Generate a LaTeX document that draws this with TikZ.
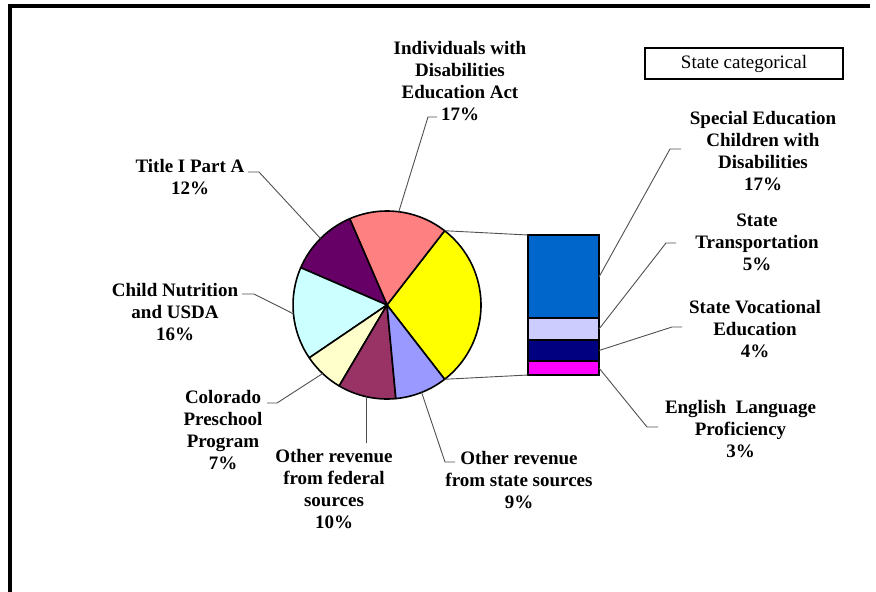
\documentclass[tikz,border=0pt]{standalone}
\usepackage{fontspec}
\setmainfont{Liberation Serif}
\definecolor{cYel}{HTML}{FFFF00}
\definecolor{cSal}{HTML}{FF8080}
\definecolor{cPur}{HTML}{660066}
\definecolor{cCya}{HTML}{CCFFFF}
\definecolor{cLYe}{HTML}{FFFFCC}
\definecolor{cPlu}{HTML}{993366}
\definecolor{cPer}{HTML}{9999FF}
\definecolor{cBlu}{HTML}{0066CC}
\definecolor{cLav}{HTML}{CCCCFF}
\definecolor{cNav}{HTML}{000080}
\definecolor{cMag}{HTML}{FF00FF}
\definecolor{cLead}{HTML}{505050}
\tikzset{
  lbl/.style={inner sep=0pt, align=center, font=\fontsize{19}{22}\selectfont\bfseries},
  lead/.style={draw=cLead, line width=0.9pt},
  slice/.style={draw=black, line width=1.6pt, line join=round},
  barseg/.style={draw=black, line width=1.6pt},
}
\begin{document}
\begin{tikzpicture}[x=1pt,y=-1pt]
\useasboundingbox[fill=white] (0,0) rectangle (876,592);
% frame
\draw[line width=4.5pt] (10,592) -- (10,6) -- (870,6);
% pie
\begin{scope}[shift={(387,305)}, y=1pt]
  \newcommand\pieR{94}
  \path[slice, fill=cYel] (0,0) -- (-52.2:\pieR) arc[start angle=-52.2, end angle=52.2, radius=\pieR] -- cycle;
  \path[slice, fill=cSal] (0,0) -- (52.2:\pieR) arc[start angle=52.2, end angle=113.4, radius=\pieR] -- cycle;
  \path[slice, fill=cPur] (0,0) -- (113.4:\pieR) arc[start angle=113.4, end angle=156.6, radius=\pieR] -- cycle;
  \path[slice, fill=cCya] (0,0) -- (156.6:\pieR) arc[start angle=156.6, end angle=214.2, radius=\pieR] -- cycle;
  \path[slice, fill=cLYe] (0,0) -- (214.2:\pieR) arc[start angle=214.2, end angle=239.4, radius=\pieR] -- cycle;
  \path[slice, fill=cPlu] (0,0) -- (239.4:\pieR) arc[start angle=239.4, end angle=275.4, radius=\pieR] -- cycle;
  \path[slice, fill=cPer] (0,0) -- (275.4:\pieR) arc[start angle=275.4, end angle=307.8, radius=\pieR] -- cycle;
  \coordinate (yTop) at (52.2:\pieR);
  \coordinate (yBot) at (-52.2:\pieR);
  \coordinate (mIDEA) at (82.8:\pieR);
  \coordinate (mTitle) at (135:\pieR);
  \coordinate (mChild) at (185.4:\pieR);
  \coordinate (mColo) at (226.8:\pieR);
  \coordinate (mFed) at (257.4:\pieR);
  \coordinate (mState) at (291.6:\pieR);
\end{scope}
% bar
\path[barseg, fill=cBlu] (528,235) rectangle (599,318);
\path[barseg, fill=cLav] (528,318) rectangle (599,340);
\path[barseg, fill=cNav] (528,340) rectangle (599,361);
\path[barseg, fill=cMag] (528,361) rectangle (599,375);
\coordinate (bTL) at (528,235);
\coordinate (bBL) at (528,375);
\coordinate (bSpec) at (599,277);
\coordinate (bTran) at (599,329);
\coordinate (bVoc) at (599,350.5);
\coordinate (bEng) at (599,368);
% pie-to-bar connectors
\draw[lead] (yTop) -- (bTL);
\draw[lead] (yBot) -- (bBL);
% legend box
\node[draw, line width=1.5pt, minimum width=198pt, minimum height=31pt, inner sep=0pt,
      font=\fontsize{19}{22}\selectfont] (legend) at (744,63.5) {State categorical};
% labels
\node[lbl] (lIDEA) at (460,81) {Individuals with\\Disabilities\\Education Act\\17\%};
\node[lbl] (lTitle) at (190,177.5) {Title I Part A\\12\%};
\node[lbl] (lChild) at (175,312) {Child Nutrition\\and USDA\\16\%};
\node[lbl] (lColo) at (223,430.5) {Colorado\\Preschool\\Program\\7\%};
\node[lbl] (lFed) at (334,489) {Other revenue\\from federal\\sources\\10\%};
\node[lbl] (lState) at (519,480.5) {Other revenue\\from state sources\\9\%};
\node[lbl] (lSpec) at (763,151) {Special Education\\Children with\\Disabilities\\17\%};
\node[lbl] (lTran) at (757,242) {State\\Transportation\\5\%};
\node[lbl] (lVoc) at (755,329.5) {State Vocational\\Education\\4\%};
\node[lbl] (lEng) at (740.5,429) {English\hspace{0.5em}Language\\Proficiency\\3\%};
% leader tick coordinates
\coordinate (tIDEA1) at (437,117); \coordinate (tIDEA2) at (428,117);
\coordinate (tTitle1) at (248,172); \coordinate (tTitle2) at (259,172);
\coordinate (tChild1) at (242,294); \coordinate (tChild2) at (254,294);
\coordinate (tColo1) at (267,403); \coordinate (tColo2) at (277,403);
\coordinate (tFed) at (366.5,443);
\coordinate (tState1) at (455,462); \coordinate (tState2) at (445,462);
\coordinate (tSpec1) at (681,149); \coordinate (tSpec2) at (670,149);
\coordinate (tTran1) at (676,243); \coordinate (tTran2) at (666,243);
\coordinate (tVoc1) at (682,327); \coordinate (tVoc2) at (672,327);
\coordinate (tEng1) at (658,427); \coordinate (tEng2) at (647,427);
% leaders
\draw[lead] (tIDEA1) -- (tIDEA2) -- (mIDEA);
\draw[lead] (tTitle1) -- (tTitle2) -- (mTitle);
\draw[lead] (tChild1) -- (tChild2) -- (mChild);
\draw[lead] (tColo1) -- (tColo2) -- (mColo);
\draw[lead] (tFed) -- (mFed);
\draw[lead] (tState1) -- (tState2) -- (mState);
\draw[lead] (tSpec1) -- (tSpec2) -- (bSpec);
\draw[lead] (tTran1) -- (tTran2) -- (bTran);
\draw[lead] (tVoc1) -- (tVoc2) -- (bVoc);
\draw[lead] (tEng1) -- (tEng2) -- (bEng);
\end{tikzpicture}
\end{document}
